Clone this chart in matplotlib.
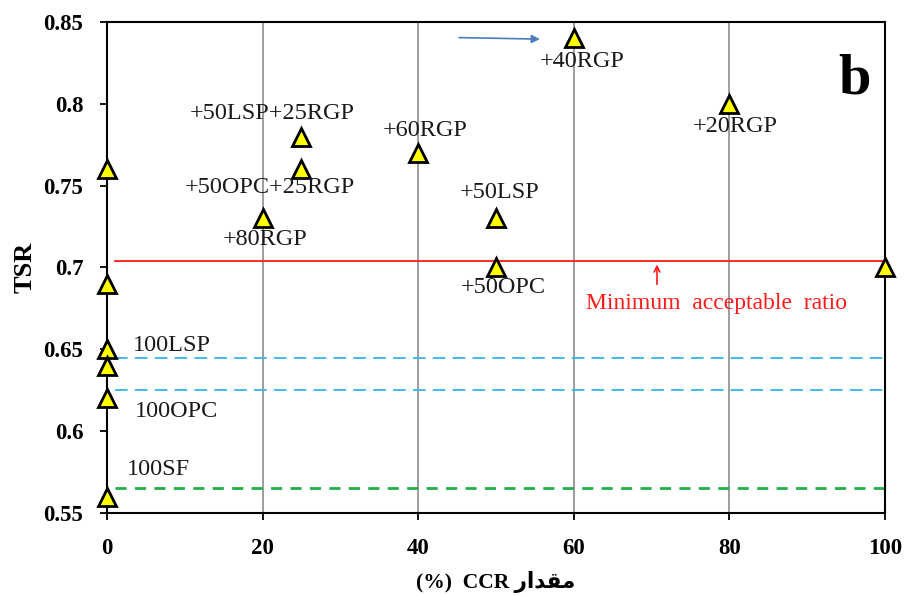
import matplotlib
matplotlib.use("Agg")
import matplotlib.pyplot as plt

# data
ccr = [0, 0, 0, 0, 0, 0, 20, 25, 25, 40, 50, 50, 60, 80, 100]
tsr = [0.76, 0.69, 0.65, 0.64, 0.62, 0.56, 0.73, 0.78, 0.76, 0.77, 0.73, 0.70, 0.84, 0.80, 0.70]

labels = ["+50LSP+25RGP", "+50OPC+25RGP", "+80RGP", "+60RGP", "+50LSP",
          "+50OPC", "+40RGP", "+20RGP", "100LSP", "100OPC", "100SF"]
label_x = [21.2, 21.0, 20.3, 40.9, 50.5, 50.9, 61.1, 80.7, 8.4, 8.9, 6.6]
label_y = [0.794, 0.7486, 0.7168, 0.784, 0.746, 0.688, 0.826, 0.786, 0.6526, 0.6123, 0.5763]

min_ratio = 0.704
lsp_ref = 0.6447
opc_ref = 0.625
sf_ref = 0.565

xticks = [0, 20, 40, 60, 80, 100]
yticks = [0.55, 0.6, 0.65, 0.7, 0.75, 0.8, 0.85]
ytick_labels = ["0.55", "0.6", "0.65", "0.7", "0.75", "0.8", "0.85"]

serif = ["Liberation Serif", "DejaVu Serif"]

fig = plt.figure(figsize=(9.08, 5.96), dpi=100)
ax = fig.add_axes([0.1178, 0.1393, 0.8568, 0.8238])
ax.set_xlim(0, 100)
ax.set_ylim(0.55, 0.85)

for gx in [20, 40, 60, 80]:
    ax.axvline(gx, color="#8c8c8c", lw=1.2, zorder=1)

ax.plot([1, 100], [min_ratio, min_ratio], color="#ff1a1a", lw=1.3, zorder=2)
ax.plot([1, 100], [lsp_ref, lsp_ref], color="#33b5e8", lw=1.3, ls=(0, (7, 4)), zorder=2)
ax.plot([1, 100], [opc_ref, opc_ref], color="#33b5e8", lw=1.3, ls=(0, (7, 4)), zorder=2)
ax.plot([1, 100], [sf_ref, sf_ref], color="#1fb04a", lw=2.0, ls=(0, (4, 3)), zorder=2)

ax.plot(ccr, tsr, ls="none", marker="^", markersize=13, markerfacecolor="#ffff00",
        markeredgecolor="black", markeredgewidth=2, zorder=5, clip_on=False)

for t, lx, ly in zip(labels, label_x, label_y):
    ax.text(lx, ly, t, ha="center", va="center", fontsize=17.5, family=serif, color="#1a1a1a", zorder=6)

ax.text(78.3, 0.6777, "Minimum  acceptable  ratio", ha="center", va="center",
        fontsize=17, family=serif, color="#ff1a1a")
ax.annotate("", xy=(70.7, 0.7035), xytext=(70.7, 0.688),
            arrowprops=dict(arrowstyle="->", color="#ff1a1a", lw=1.2))
ax.annotate("", xy=(56.0, 0.8395), xytext=(44.9, 0.8405),
            arrowprops=dict(arrowstyle="-|>", color="#4a7ec0", lw=1.2, mutation_scale=12))
ax.text(96.1, 0.815, "b", ha="center", va="center", fontsize=42, fontweight="bold", family=serif)

ax.set_xticks(xticks)
ax.set_yticks(yticks)
ax.set_xticklabels([str(v) for v in xticks])
ax.set_yticklabels(ytick_labels)
ax.tick_params(direction="out", length=5, width=1.3, labelsize=16.5)
ax.tick_params(axis="x", pad=13)
ax.tick_params(axis="y", pad=12)
for lab in ax.get_xticklabels() + ax.get_yticklabels():
    lab.set_fontweight("bold")
    lab.set_family(serif)

for s in ax.spines.values():
    s.set_linewidth(1.5)
    s.set_color("black")

ax.set_ylabel("TSR", fontsize=19, fontweight="bold", family=serif, labelpad=5)
arabic = "\uFEAD\uFE8D\uFEAA\uFED8\uFEE3"
ax.set_xlabel("(%)  CCR " + arabic, fontsize=15.5, fontweight="bold",
              family=["Liberation Serif", "DejaVu Sans"], labelpad=9)

fig.savefig("out.png", dpi=100)
